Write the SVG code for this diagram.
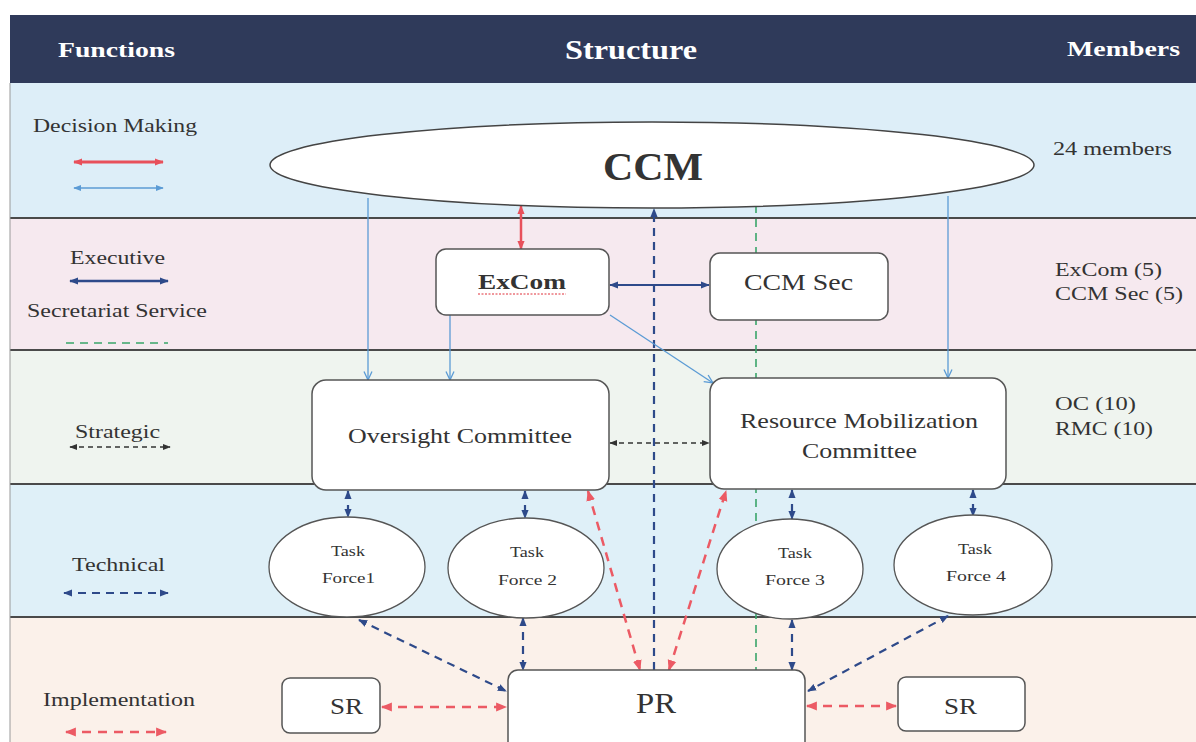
<svg xmlns="http://www.w3.org/2000/svg" width="1196" height="742" viewBox="0 0 1196 742" font-family="'Liberation Serif', 'DejaVu Serif', serif">
<style>
text{font-family:"Liberation Serif","DejaVu Serif",serif;fill:#333}
.hdr{fill:#fff;font-weight:bold}
.lbl{font-size:19px}
.box{fill:#fff;stroke:#555;stroke-width:1.5}
.div{stroke:#4a4a4a;stroke-width:2}
.red{stroke:#e8505b;fill:none}
.lb{stroke:#5b9bd5;fill:none;stroke-width:1.3}
.db{stroke:#2e4a8a;fill:none}
.grn{stroke:#3aa56a;fill:none;stroke-width:1.6;stroke-dasharray:8 6}
.blk{stroke:#333;fill:none;stroke-width:1.5;stroke-dasharray:5 4}
.rd{stroke:#ec5a64;fill:none;stroke-width:2.5;stroke-dasharray:9 7}
.dbd{stroke:#2e4a8a;fill:none;stroke-width:2.2;stroke-dasharray:8 6}
</style>
<defs>
<marker id="mRed" viewBox="0 0 10 10" refX="9" refY="5" markerWidth="9" markerHeight="9" markerUnits="userSpaceOnUse" orient="auto-start-reverse"><path d="M0,1 L10,5 L0,9 z" fill="#e8505b"/></marker>
<marker id="mRedD" viewBox="0 0 10 10" refX="9" refY="5" markerWidth="11" markerHeight="11" markerUnits="userSpaceOnUse" orient="auto-start-reverse"><path d="M0,1 L10,5 L0,9 z" fill="#ec5a64"/></marker>
<marker id="mLb" viewBox="0 0 10 10" refX="9.5" refY="5" markerWidth="10" markerHeight="10" markerUnits="userSpaceOnUse" orient="auto-start-reverse"><path d="M1,1 L9.5,5 L1,9" fill="none" stroke="#5b9bd5" stroke-width="1.3"/></marker>
<marker id="mLbF" viewBox="0 0 10 10" refX="9" refY="5" markerWidth="8" markerHeight="8" markerUnits="userSpaceOnUse" orient="auto-start-reverse"><path d="M0,1 L10,5 L0,9 z" fill="#5b9bd5"/></marker>
<marker id="mDb" viewBox="0 0 10 10" refX="9" refY="5" markerWidth="9" markerHeight="9" markerUnits="userSpaceOnUse" orient="auto-start-reverse"><path d="M0,1 L10,5 L0,9 z" fill="#2e4a8a"/></marker>
<marker id="mBlk" viewBox="0 0 10 10" refX="9" refY="5" markerWidth="8" markerHeight="8" markerUnits="userSpaceOnUse" orient="auto-start-reverse"><path d="M0,1 L10,5 L0,9 z" fill="#333"/></marker>
</defs>

<g id="background">
<rect x="0" y="0" width="1196" height="742" fill="#fff"/>
<rect x="10" y="15" width="1186" height="68" fill="#2f3a5a"/>
<rect x="10" y="83" width="1186" height="135" fill="#ddeef8"/>
<rect x="10" y="218" width="1186" height="132" fill="#f6e9ef"/>
<rect x="10" y="350" width="1186" height="134" fill="#eff4ef"/>
<rect x="10" y="484" width="1186" height="133" fill="#dff0f8"/>
<rect x="10" y="617" width="1186" height="125" fill="#fbf1ea"/>
<line class="div" x1="10" y1="218" x2="1196" y2="218"/>
<line class="div" x1="10" y1="350" x2="1196" y2="350"/>
<line class="div" x1="10" y1="484" x2="1196" y2="484"/>
<line class="div" x1="10" y1="617" x2="1196" y2="617"/>
<line x1="10" y1="83" x2="10" y2="742" stroke="#999" stroke-width="1"/>
</g>

<g id="header">
<text class="hdr" x="58" y="57" font-size="22" textLength="117" lengthAdjust="spacingAndGlyphs">Functions</text>
<text class="hdr" x="565" y="59" font-size="28" textLength="132" lengthAdjust="spacingAndGlyphs">Structure</text>
<text class="hdr" x="1067" y="56" font-size="22" textLength="113" lengthAdjust="spacingAndGlyphs">Members</text>
</g>

<g id="legend">
<text class="lbl" x="33" y="132" textLength="164" lengthAdjust="spacingAndGlyphs">Decision Making</text>
<line class="red" x1="74" y1="162" x2="163" y2="162" stroke-width="3" marker-start="url(#mRed)" marker-end="url(#mRed)"/>
<line class="lb" x1="74" y1="188" x2="163" y2="188" stroke-width="2" marker-start="url(#mLbF)" marker-end="url(#mLbF)"/>
<text class="lbl" x="70" y="264" textLength="95" lengthAdjust="spacingAndGlyphs">Executive</text>
<line class="db" x1="70" y1="281" x2="168" y2="281" stroke-width="2.5" marker-start="url(#mDb)" marker-end="url(#mDb)"/>
<text class="lbl" x="27" y="317" textLength="180" lengthAdjust="spacingAndGlyphs">Secretariat Service</text>
<line class="grn" x1="66" y1="343" x2="168" y2="343" stroke-width="2.5"/>
<text class="lbl" x="75" y="438" textLength="85" lengthAdjust="spacingAndGlyphs">Strategic</text>
<line class="blk" x1="70" y1="447" x2="170" y2="447" stroke-width="2" marker-start="url(#mBlk)" marker-end="url(#mBlk)"/>
<text class="lbl" x="72" y="571" textLength="93" lengthAdjust="spacingAndGlyphs">Technical</text>
<line class="dbd" x1="64" y1="593" x2="168" y2="593" marker-start="url(#mDb)" marker-end="url(#mDb)"/>
<text class="lbl" x="43" y="706" textLength="152" lengthAdjust="spacingAndGlyphs">Implementation</text>
<line class="rd" x1="66" y1="732" x2="166" y2="732" marker-start="url(#mRedD)" marker-end="url(#mRedD)"/>
</g>

<g id="members">
<text class="lbl" x="1053" y="155" textLength="119" lengthAdjust="spacingAndGlyphs">24 members</text>
<text class="lbl" x="1055" y="276" textLength="107" lengthAdjust="spacingAndGlyphs">ExCom (5)</text>
<text class="lbl" x="1055" y="300" textLength="128" lengthAdjust="spacingAndGlyphs">CCM Sec (5)</text>
<text class="lbl" x="1055" y="410" textLength="81" lengthAdjust="spacingAndGlyphs">OC (10)</text>
<text class="lbl" x="1055" y="435" textLength="98" lengthAdjust="spacingAndGlyphs">RMC (10)</text>
</g>

<g id="connectors">
<line class="grn" x1="756" y1="205" x2="756" y2="670"/>
<line class="dbd" x1="654" y1="670" x2="654" y2="209" marker-end="url(#mDb)"/>
<line class="red" x1="521" y1="206" x2="521" y2="249" stroke-width="2.5" marker-start="url(#mRed)" marker-end="url(#mRed)"/>
<line class="lb" x1="368" y1="198" x2="368" y2="380" marker-end="url(#mLb)"/>
<line class="lb" x1="450" y1="315" x2="450" y2="380" marker-end="url(#mLb)"/>
<line class="lb" x1="948" y1="196" x2="948" y2="378" marker-end="url(#mLb)"/>
<line class="lb" x1="610" y1="315" x2="713" y2="383" marker-end="url(#mLb)"/>
<line class="db" x1="610" y1="285" x2="709" y2="285" stroke-width="2.2" marker-start="url(#mDb)" marker-end="url(#mDb)"/>
<line class="blk" x1="610" y1="443" x2="709" y2="443" marker-start="url(#mBlk)" marker-end="url(#mBlk)"/>
<line class="dbd" x1="348" y1="491" x2="348" y2="517" marker-start="url(#mDb)" marker-end="url(#mDb)"/>
<line class="dbd" x1="525" y1="491" x2="525" y2="518" marker-start="url(#mDb)" marker-end="url(#mDb)"/>
<line class="dbd" x1="792" y1="490" x2="792" y2="519" marker-start="url(#mDb)" marker-end="url(#mDb)"/>
<line class="dbd" x1="973" y1="490" x2="973" y2="516" marker-start="url(#mDb)" marker-end="url(#mDb)"/>
<line class="dbd" x1="523" y1="618" x2="523" y2="670" marker-start="url(#mDb)" marker-end="url(#mDb)"/>
<line class="dbd" x1="792" y1="620" x2="792" y2="670" marker-start="url(#mDb)" marker-end="url(#mDb)"/>
<line class="dbd" x1="359" y1="620" x2="506" y2="691" marker-start="url(#mDb)" marker-end="url(#mDb)"/>
<line class="dbd" x1="948" y1="616" x2="808" y2="691" marker-start="url(#mDb)" marker-end="url(#mDb)"/>
<line class="rd" x1="588" y1="491" x2="640" y2="670" marker-start="url(#mRedD)" marker-end="url(#mRedD)"/>
<line class="rd" x1="669" y1="670" x2="726" y2="491" marker-start="url(#mRedD)" marker-end="url(#mRedD)"/>
<line class="rd" x1="382" y1="707" x2="506" y2="707" marker-start="url(#mRedD)" marker-end="url(#mRedD)"/>
<line class="rd" x1="807" y1="706" x2="896" y2="706" marker-start="url(#mRedD)" marker-end="url(#mRedD)"/>
</g>

<g id="ccm">
<ellipse cx="652" cy="165" rx="382" ry="43" fill="#fff" stroke="#444" stroke-width="1.5"/>
<text x="603" y="180" font-size="40" font-weight="bold" textLength="100" lengthAdjust="spacingAndGlyphs">CCM</text>
</g>
<g id="excom">
<rect class="box" x="436" y="249" width="173" height="66" rx="10"/>
<text x="478" y="289" font-size="22" font-weight="bold" textLength="88" lengthAdjust="spacingAndGlyphs">ExCom</text>
<line x1="478" y1="294" x2="566" y2="294" stroke="#e0303a" stroke-width="1" stroke-dasharray="2 1.5"/>
</g>
<g id="ccmsec">
<rect class="box" x="710" y="253" width="178" height="67" rx="10"/>
<text x="744" y="290" font-size="24" textLength="109" lengthAdjust="spacingAndGlyphs">CCM Sec</text>
</g>
<g id="oversight">
<rect class="box" x="312" y="380" width="297" height="110" rx="14"/>
<text x="348" y="443" font-size="22" textLength="224" lengthAdjust="spacingAndGlyphs">Oversight Committee</text>
</g>
<g id="rmc">
<rect class="box" x="710" y="378" width="296" height="111" rx="14"/>
<text x="740" y="428" font-size="22" textLength="238" lengthAdjust="spacingAndGlyphs">Resource Mobilization</text>
<text x="802" y="458" font-size="22" textLength="115" lengthAdjust="spacingAndGlyphs">Committee</text>
</g>
<g id="tf1">
<ellipse cx="347" cy="567" rx="78" ry="50" fill="#fff" stroke="#555" stroke-width="1.3"/>
<text x="331" y="556" font-size="15" textLength="34" lengthAdjust="spacingAndGlyphs">Task</text>
<text x="322" y="583" font-size="15" textLength="53" lengthAdjust="spacingAndGlyphs">Force1</text>
</g>
<g id="tf2">
<ellipse cx="526" cy="568" rx="78" ry="50" fill="#fff" stroke="#555" stroke-width="1.3"/>
<text x="510" y="557" font-size="15" textLength="34" lengthAdjust="spacingAndGlyphs">Task</text>
<text x="498" y="585" font-size="15" textLength="59" lengthAdjust="spacingAndGlyphs">Force 2</text>
</g>
<g id="tf3">
<ellipse cx="790" cy="569" rx="73" ry="50" fill="#fff" stroke="#555" stroke-width="1.3"/>
<text x="778" y="558" font-size="15" textLength="34" lengthAdjust="spacingAndGlyphs">Task</text>
<text x="765" y="585" font-size="15" textLength="60" lengthAdjust="spacingAndGlyphs">Force 3</text>
</g>
<g id="tf4">
<ellipse cx="973" cy="565" rx="79" ry="50" fill="#fff" stroke="#555" stroke-width="1.3"/>
<text x="958" y="554" font-size="15" textLength="34" lengthAdjust="spacingAndGlyphs">Task</text>
<text x="946" y="581" font-size="15" textLength="60" lengthAdjust="spacingAndGlyphs">Force 4</text>
</g>
<g id="sr1">
<rect class="box" x="282" y="678" width="98" height="55" rx="8"/>
<text x="330" y="714" font-size="24" textLength="33" lengthAdjust="spacingAndGlyphs">SR</text>
</g>
<g id="pr">
<rect class="box" x="508" y="670" width="297" height="85" rx="10"/>
<text x="636" y="713" font-size="30" textLength="40" lengthAdjust="spacingAndGlyphs">PR</text>
</g>
<g id="sr2">
<rect class="box" x="898" y="677" width="127" height="54" rx="8"/>
<text x="944" y="714" font-size="24" textLength="33" lengthAdjust="spacingAndGlyphs">SR</text>
</g>
</svg>
